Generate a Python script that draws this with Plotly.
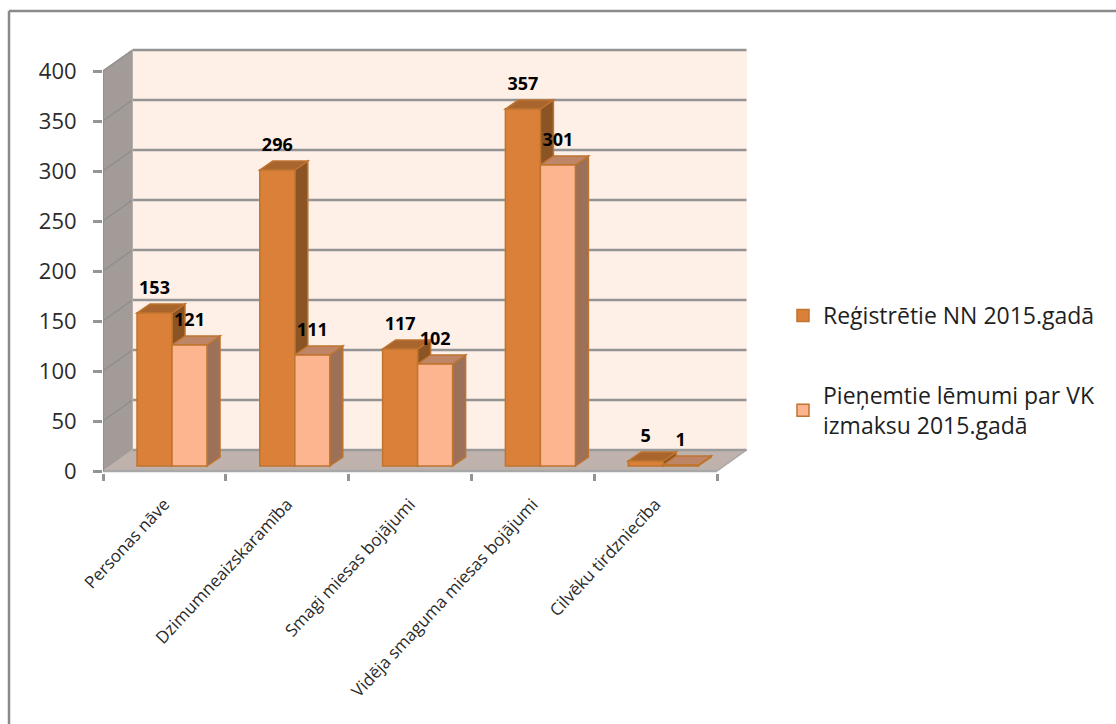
import plotly.graph_objects as go

categories = ["Personas nāve", "Dzimumneaizskaramība", "Smagi miesas bojājumi",
              "Vidēja smaguma miesas bojājumi", "Cilvēku tirdzniecība"]
registered = [153, 296, 117, 357, 5]
decisions = [121, 111, 102, 301, 1]
name_a = "Reģistrētie NN 2015.gadā"
name_b = "Pieņemtie lēmumi par VK<br>izmaksu 2015.gadā"
y_ticks = [0, 50, 100, 150, 200, 250, 300, 350, 400]

W, H = 1116, 724
PX_X = 122.8                # pixels per category
L, R, T, B = 103, 748, 48, 473
x_rng = [-0.5, -0.5 + (R - L) / PX_X]
y_rng = [-2, 423]
FONT = "Open Sans"
GRID = "#949494"

wall_dx, wall_dy = 29.5 / PX_X, 21
bar_dx, bar_dy = 13 / PX_X, 9
bar_w = 35 / PX_X
bar_c = 0.062
base = 5
label_gap = 24


def poly(pts, fill, line=None, lw=1):
    path = "M " + " L ".join(f"{x:.4f},{y:.2f}" for x, y in pts) + " Z"
    return dict(type="path", path=path, xref="x", yref="y", layer="below",
                fillcolor=fill, line=dict(color=line or fill, width=lw))


def seg(x0, y0, x1, y1, color=GRID, w=2.5):
    return dict(type="line", x0=x0, y0=y0, x1=x1, y1=y1, xref="x", yref="y",
                layer="below", line=dict(color=color, width=w))


x0, x1 = -0.5, 4.5
shapes = [
    # back wall, side wall, floor
    poly([(x0 + wall_dx, 0 + wall_dy), (x1 + wall_dx, 0 + wall_dy), (x1 + wall_dx, 400 + wall_dy),
          (x0 + wall_dx, 400 + wall_dy)], "#FEEFE7", "#FEEFE7"),
    poly([(x0, 0), (x0 + wall_dx, wall_dy), (x0 + wall_dx, 400 + wall_dy), (x0, 400)], "#A29B97", "#A29B97"),
    poly([(x0, 0), (x1, 0), (x1 + wall_dx, wall_dy), (x0 + wall_dx, wall_dy)], "#BFB2AD", "#BFB2AD"),
]
for v in y_ticks:
    if v > 0:
        shapes.append(seg(x0 + wall_dx, v + wall_dy, x1 + wall_dx, v + wall_dy))
        shapes.append(seg(x0, v, x0 + wall_dx, v + wall_dy, "#8F8F8F", 1.5))
shapes.append(seg(x0 + wall_dx, wall_dy, x1 + wall_dx, wall_dy, "#9A9A9A", 2.5))
shapes.append(seg(x0 + wall_dx, wall_dy, x0 + wall_dx, 400 + wall_dy, "#B5AEAA", 1))
shapes.append(seg(x0, 0, x1, 0, "#A8A8A8", 2.5))
shapes.append(seg(x1, 0, x1 + wall_dx, wall_dy, "#A8A8A8", 1.5))
shapes.append(seg(x0, 0, x0, 400, "#8F8F8F", 2))

series = [
    (registered, bar_c - bar_w, "#DA8039", "#8B5425", "#A9652E", "#BF742F"),
    (decisions, bar_c, "#FDB58F", "#9D7158", "#BE8666", "#BF742F"),
]
for vals, off, front, side, top, edge in series:
    for i, v in enumerate(vals):
        xl = i + off
        xr = xl + bar_w
        yt = base + v
        shapes.append(poly([(xr, base), (xr + bar_dx, base + bar_dy), (xr + bar_dx, yt + bar_dy), (xr, yt)],
                           side, edge, 1.5))
        shapes.append(poly([(xl, yt), (xr, yt), (xr + bar_dx, yt + bar_dy), (xl + bar_dx, yt + bar_dy)],
                           top, edge, 1.5))
# outer border: only the top and the left edges are in the picture
shapes.append(dict(type="line", xref="paper", yref="paper", x0=(9 - L) / (R - L), x1=(W - L) / (R - L),
                   y0=(B - 11) / (B - T), y1=(B - 11) / (B - T), line=dict(color="#8A8A8A", width=2.5), layer="below"))
shapes.append(dict(type="line", xref="paper", yref="paper", x0=(9 - L) / (R - L), x1=(9 - L) / (R - L),
                   y0=(B - 11) / (B - T), y1=(B - H) / (B - T), line=dict(color="#8A8A8A", width=2.5), layer="below"))

fig = go.Figure()
xs = list(range(len(categories)))
for vals, off, front, side, top, edge, name in [s + (n,) for s, n in zip(series, [name_a, name_b])]:
    fig.add_trace(go.Bar(x=xs, y=vals, base=[base] * len(vals), offset=[off] * len(vals), width=[bar_w] * len(vals),
                         name=name, legendgroup=name,
                         marker=dict(color=front, line=dict(color=edge, width=1.5))))
    fig.add_trace(go.Scatter(x=[i + off + bar_w / 2 for i in xs], y=[base + v + label_gap for v in vals],
                             mode="text", text=[str(v) for v in vals], textposition="middle center",
                             textfont=dict(family=FONT, size=18, color="#000000", weight="bold"),
                             showlegend=False, cliponaxis=False, hoverinfo="skip"))

fig.update_layout(
    width=W, height=H, barmode="overlay", showlegend=True,
    margin=dict(l=L, r=W - R, t=T, b=H - B, autoexpand=False),
    paper_bgcolor="#FFFFFF", plot_bgcolor="rgba(0,0,0,0)", shapes=shapes,
    font=dict(family=FONT, color="#2B2B2B"),
    legend=dict(x=(783 - L) / (R - L), y=(B - 294) / (B - T), xanchor="left", yanchor="top",
                font=dict(family=FONT, size=23, color="#1F1F1F"), tracegroupgap=47,
                bgcolor="rgba(0,0,0,0)", itemwidth=30, traceorder="grouped"),
    xaxis=dict(range=x_rng, tickmode="array", tickvals=xs, ticktext=categories, tickangle=-47,
               ticks="", tickcolor=GRID, showgrid=False, zeroline=False, showline=False, ticklabelstandoff=17,
               tickfont=dict(family=FONT, size=17, color="#2B2B2B"),
               minor=dict(tickmode="array", tickvals=[-0.5, 0.5, 1.5, 2.5, 3.5, 4.5], ticks="outside",
                          ticklen=7, tickwidth=2.5, tickcolor=GRID, showgrid=False)),
    yaxis=dict(range=y_rng, tickmode="array", tickvals=y_ticks, ticks="outside", ticklen=9, tickwidth=2.5,
               tickcolor=GRID, showgrid=False, zeroline=False, showline=False, ticklabelstandoff=12,
               tickfont=dict(family=FONT, size=22, color="#2B2B2B")),
)
fig.write_html("out.html", config=dict(displayModeBar=False),
               post_script="document.body.style.margin='0';document.body.style.overflow='hidden';")
